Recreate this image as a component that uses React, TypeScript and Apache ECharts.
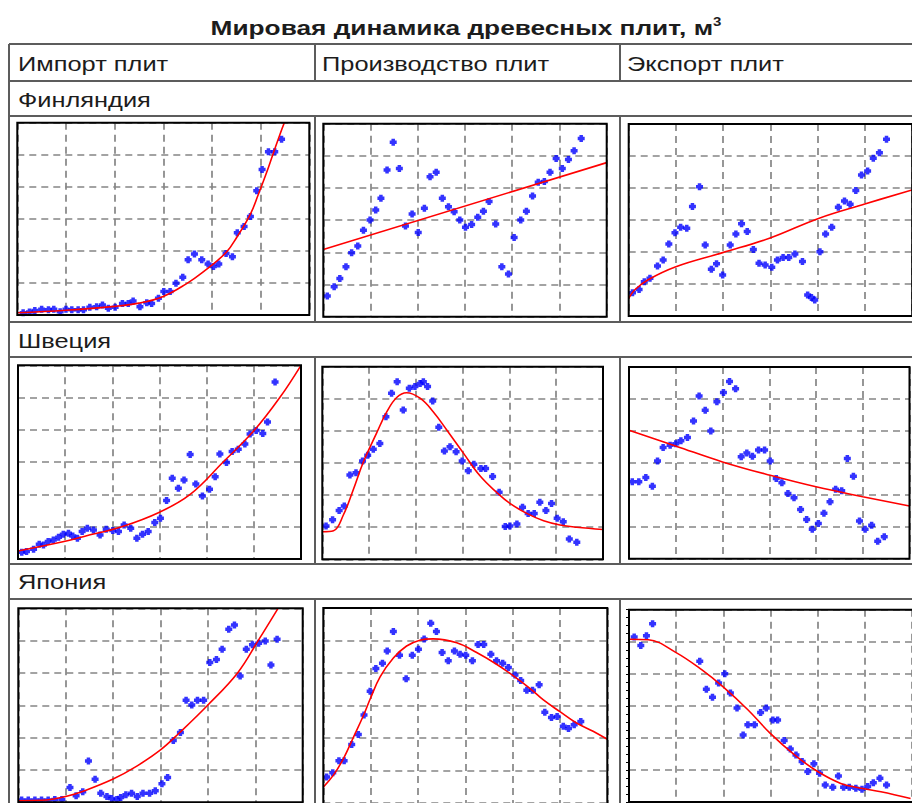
import React, { useEffect, useRef } from "react";
import * as echarts from "echarts";

// ---- Titles / labels ----
const titleText = "Мировая динамика древесных плит, м";
const titleSup = "3";
const columnNames = ["Импорт плит", "Производство плит", "Экспорт плит"];
const countryNames = ["Финляндия", "Швеция", "Япония"];

// ---- Data (grid units 0..60 on both axes) ----
const finImportPts = [
  [1.2, 0.7], [2.5, 0.9], [3.6, 1.4], [5.0, 1.8], [6.4, 1.6], [7.5, 1.8], [8.8, 1.0], [10.0, 1.8],
  [11.2, 1.6], [12.5, 1.6], [13.6, 1.6], [14.9, 2.4], [16.3, 2.6], [17.5, 3.1], [18.7, 2.1], [20.1, 2.4],
  [21.6, 3.6], [22.8, 3.6], [23.8, 4.4], [25.2, 2.6], [26.6, 3.8], [27.6, 3.6], [29.0, 5.2], [30.1, 7.3],
  [31.4, 7.3], [32.6, 9.9], [34.0, 11.8], [35.1, 17.2], [36.4, 19.0], [37.9, 17.2], [39.2, 15.9], [40.3, 15.1],
  [41.4, 15.9], [42.9, 19.2], [44.2, 18.2], [45.2, 25.7], [46.6, 27.6], [47.9, 30.7], [49.2, 38.8], [50.3, 45.4],
  [51.6, 50.9], [52.9, 50.9], [54.3, 54.8],
];
const finImportFit = [
  [0, 0.7], [10, 1.5], [20, 2.7], [25, 3.7], [30, 5.8], [34.8, 9.8], [38, 13.2], [42.9, 19.5],
  [45.2, 24.5], [47.9, 31.5], [49.5, 37.5], [51, 43.5], [52.5, 50], [54, 56.5], [55, 60.5],
];

const finProdPts = [
  [0.85, 6.4], [2.3, 9.3], [3.5, 11.9], [4.8, 15.5], [6.0, 19.9], [7.3, 22.0], [8.5, 26.9], [9.9, 30.1],
  [11.1, 33.2], [12.2, 36.8], [13.5, 45.6], [14.8, 54.2], [16.1, 46.1], [17.4, 28.2], [18.8, 31.9], [20.1, 26.2],
  [21.4, 33.7], [22.6, 43.5], [23.9, 44.9], [25.2, 36.8], [26.5, 34.2], [27.7, 32.6], [28.9, 30.1], [30.1, 27.8],
  [31.4, 28.7], [32.7, 30.9], [33.9, 32.8], [35.1, 35.8], [36.5, 28.8], [37.8, 15.5], [39.2, 13.3], [40.4, 24.6],
  [41.8, 30.1], [43.0, 32.8], [44.3, 37.5], [45.5, 41.8], [46.8, 42.0], [48.0, 44.9], [49.3, 49.2], [50.6, 46.1],
  [51.9, 48.9], [53.1, 51.6], [54.6, 55.4],
];
const finProdFit = [[0, 20.9], [60, 47.9]];

const finExportPts = [
  [0.8, 7.3], [2.2, 8.3], [3.3, 10.7], [4.5, 11.8], [6.1, 15.6], [7.3, 17.5], [8.5, 22.5], [9.8, 26.0],
  [11.0, 27.7], [12.3, 27.4], [13.5, 34.2], [15.0, 40.4], [16.2, 22.2], [17.5, 14.6], [18.6, 16.3], [19.9, 12.8],
  [21.5, 22.2], [22.7, 25.6], [23.9, 28.8], [25.1, 26.4], [26.4, 20.8], [27.6, 16.5], [28.9, 15.9], [30.3, 15.2],
  [31.5, 17.5], [32.7, 18.3], [33.9, 18.3], [35.2, 19.4], [36.8, 17.0], [37.9, 6.6], [38.7, 5.8], [39.4, 5.0],
  [40.5, 20.1], [41.7, 25.6], [43.0, 27.7], [44.4, 34.0], [45.7, 35.9], [46.9, 34.9], [48.1, 39.2], [49.3, 44.1],
  [50.6, 45.3], [51.8, 49.3], [53.1, 51.0], [54.6, 55.2],
];
const finExportFit = [
  [0, 5.5], [1.3, 8.2], [4.2, 11.4], [10.0, 15.4], [19.9, 19.8], [29.8, 24.3], [40.2, 30.5], [50.0, 35.0], [60.0, 39.4],
];

const sweImportPts = [
  [0.8, 2.1], [1.8, 2.3], [3.3, 3.0], [4.5, 4.6], [5.4, 4.3], [6.4, 5.4], [7.5, 5.9], [8.6, 6.7],
  [9.6, 7.7], [10.7, 8.0], [11.6, 7.1], [12.6, 6.4], [13.6, 8.5], [14.7, 9.5], [16.0, 9.0], [17.4, 7.4],
  [18.7, 9.2], [20.1, 8.8], [21.3, 8.5], [22.5, 10.5], [23.9, 9.5], [25.2, 6.4], [26.4, 7.7], [27.6, 8.5],
  [29.0, 11.3], [30.2, 12.6], [31.5, 18.1], [32.7, 25.0], [34.0, 21.9], [35.2, 24.5], [36.5, 32.4], [37.7, 23.2],
  [39.1, 19.5], [40.6, 21.6], [41.8, 25.5], [42.8, 32.5], [44.2, 29.9], [45.4, 33.3], [46.7, 34.0], [48.1, 35.6],
  [49.2, 38.7], [50.5, 39.8], [51.9, 38.9], [52.9, 42.4], [54.5, 54.8],
];
const sweImportFit = [
  [0, 2.5], [10, 5.5], [14, 7], [22, 10], [30, 14.5], [36.5, 20], [43.4, 29.9], [50, 39.7], [55.5, 50], [60, 60],
];

const sweProdPts = [
  [0.8, 10.4], [2.2, 12.3], [3.6, 15.2], [4.7, 16.6], [5.9, 26.3], [7.2, 27.0], [8.6, 30.6], [9.7, 32.4],
  [10.9, 34.3], [12.3, 36.1], [13.6, 44.4], [14.8, 51.7], [16.0, 55.3], [17.3, 46.5], [18.6, 53.3], [19.8, 53.8],
  [20.9, 54.8], [21.6, 55.3], [22.5, 53.8], [23.6, 49.3], [24.9, 41.1], [26.1, 33.7], [27.3, 35.1], [28.6, 33.5],
  [29.9, 30.6], [31.2, 27.6], [32.4, 29.6], [33.9, 28.3], [34.9, 28.3], [36.4, 25.8], [37.8, 20.9], [39.1, 10.2],
  [40.1, 10.4], [41.6, 11.0], [42.8, 16.2], [44.0, 14.3], [45.3, 14.3], [46.5, 17.8], [47.8, 15.2], [49.0, 17.4],
  [50.2, 12.8], [51.5, 11.7], [52.8, 6.3], [54.4, 5.3],
];
const sweProdFit = [
  [0, 8.6], [2.4, 8.9], [4.5, 13.8], [6.6, 21.6], [8.8, 30.4], [11.6, 39.3], [13.8, 46.0], [15.9, 50.4],
  [18.0, 51.9], [20.9, 50.2], [23.7, 46.0], [26.6, 40.3], [30.2, 33.0], [33.7, 26.0], [37.3, 20.8], [40.1, 17.4],
  [43.7, 14.3], [47.3, 12.0], [50.8, 10.7], [54.4, 10.0], [60, 9.3],
];

const sweExportPts = [
  [0.7, 24.1], [2.1, 24.1], [3.6, 25.4], [5.0, 22.7], [6.1, 30.6], [7.3, 34.8], [8.8, 35.5], [10.0, 36.0],
  [11.1, 36.9], [12.5, 37.9], [13.8, 43.1], [15.0, 50.9], [16.3, 46.5], [17.5, 40.0], [18.8, 49.1], [20.2, 52.0],
  [21.5, 55.5], [22.8, 53.2], [24.0, 31.9], [25.2, 33.1], [26.4, 32.1], [27.7, 34.0], [29.0, 34.0], [30.2, 30.6],
  [31.5, 25.1], [32.7, 23.8], [34.0, 20.4], [35.3, 19.1], [36.7, 15.4], [38.0, 12.3], [39.2, 9.2], [40.5, 11.0],
  [41.7, 14.2], [43.0, 17.8], [44.2, 21.7], [45.5, 21.3], [46.7, 31.4], [48.0, 25.8], [49.3, 11.8], [50.5, 9.2],
  [51.9, 10.5], [53.2, 5.5], [54.6, 6.9],
];
const sweExportFit = [[0, 40.2], [10.1, 35.2], [20.0, 30.3], [30.2, 26.1], [40.0, 22.5], [50.0, 19.4], [60, 16.5]];

const jpnImportPts = [
  [0.7, 0.7], [2.1, 0.7], [3.5, 0.7], [4.9, 0.7], [6.3, 0.7], [7.7, 0.9], [9.2, 0.9], [10.9, 4.6],
  [12.2, 2.0], [13.6, 3.3], [14.8, 12.8], [16.2, 7.1], [17.4, 2.8], [18.7, 1.8], [19.7, 1.2], [20.8, 0.9],
  [21.6, 1.5], [22.7, 2.3], [23.9, 2.8], [25.1, 1.8], [26.3, 2.8], [27.7, 2.8], [28.9, 3.6], [30.3, 5.7],
  [31.5, 7.7], [32.7, 19.1], [34.2, 21.6], [35.4, 31.6], [36.6, 30.1], [37.8, 31.6], [39.1, 31.6], [40.4, 43.2],
  [41.8, 44.2], [43.0, 47.3], [44.4, 53.5], [45.6, 54.8], [46.8, 39.1], [48.1, 47.3], [49.4, 48.7], [50.7, 49.2],
  [52.1, 49.9], [53.3, 42.5], [54.6, 50.4],
];
const jpnImportFit = [
  [0, 0.5], [6, 0.7], [10, 1.8], [14, 3.6], [20, 7.2], [25, 11.2], [30, 16.2], [34, 21.5],
  [40, 30.1], [46.3, 40.1], [50.6, 50], [54.8, 60],
];

const jpnProdPts = [
  [0.7, 8.0], [2.0, 9.3], [3.3, 13.0], [4.4, 13.0], [6.0, 18.0], [7.4, 21.1], [8.6, 27.1], [9.9, 34.4],
  [11.1, 41.4], [12.5, 43.0], [13.5, 46.8], [14.8, 52.8], [16.1, 45.5], [17.5, 38.2], [18.8, 45.5], [20.1, 47.3],
  [21.3, 50.5], [22.7, 55.3], [23.9, 52.8], [25.1, 46.3], [26.4, 43.8], [27.7, 46.8], [28.9, 45.8], [30.1, 45.5],
  [31.5, 43.8], [32.7, 48.8], [33.9, 48.8], [35.4, 45.8], [36.6, 43.8], [37.9, 43.0], [39.1, 41.7], [40.5, 39.4],
  [41.7, 37.7], [43.0, 34.7], [44.2, 34.7], [45.6, 36.4], [46.8, 27.9], [48.2, 26.3], [49.4, 26.6], [50.7, 23.6],
  [51.8, 22.9], [53.0, 24.1], [54.4, 25.1],
];
const jpnProdFit = [
  [0, 4.9], [2.1, 8.5], [4.2, 13.5], [6.3, 20.0], [8.5, 27.0], [9.9, 32.0], [12.0, 38.8], [14.8, 44.6],
  [17.6, 48.3], [20.4, 50.1], [23.2, 50.5], [28.2, 49.3], [32.4, 46.3], [36.6, 42.7], [40.1, 39.2], [43.7, 35.2],
  [46.5, 31.7], [50.0, 28.1], [53.5, 24.6], [57.0, 22.1], [60, 19.6],
];

const jpnExportPts = [
  [1.1, 51.5], [2.5, 48.8], [3.7, 51.9], [5.0, 55.6], [15.0, 43.9], [16.4, 35.2], [17.7, 32.7], [19.0, 37.1],
  [20.3, 40.0], [21.5, 34.0], [22.9, 29.3], [24.2, 20.9], [25.2, 24.1], [26.6, 24.1], [27.9, 27.9], [29.1, 29.3],
  [30.5, 25.6], [31.5, 25.6], [32.9, 19.2], [34.2, 16.5], [35.4, 14.7], [36.7, 12.6], [37.9, 9.5], [39.2, 11.9],
  [40.4, 9.0], [41.6, 5.3], [43.2, 4.6], [44.4, 8.1], [45.5, 4.6], [46.7, 4.6], [48.1, 4.3], [49.4, 4.0],
  [50.6, 4.8], [51.8, 6.0], [53.2, 7.4], [54.6, 5.3],
];
const jpnExportFit = [
  [0, 50.8], [4.1, 50.6], [9.9, 46.7], [15.4, 41.3], [19.9, 36.0], [25.2, 28.8], [29.9, 21.5], [35.1, 14.7],
  [40.0, 9.5], [44.9, 5.8], [49.2, 4.3], [53.4, 3.2], [59.7, 1.1],
];

const panels = [
  { pts: finImportPts, fit: finImportFit },
  { pts: finProdPts, fit: finProdFit },
  { pts: finExportPts, fit: finExportFit },
  { pts: sweImportPts, fit: sweImportFit },
  { pts: sweProdPts, fit: sweProdFit },
  { pts: sweExportPts, fit: sweExportFit },
  { pts: jpnImportPts, fit: jpnImportFit },
  { pts: jpnProdPts, fit: jpnProdFit },
  { pts: jpnExportPts, fit: jpnExportFit },
];

// ---- Layout (pixels) ----
const boxes = [
  { l: 17.3, t: 122.7, w: 292, h: 192.3 },
  { l: 323.3, t: 123.7, w: 283.4, h: 193 },
  { l: 628.7, t: 124, w: 283.5, h: 192 },
  { l: 18, t: 365.3, w: 283, h: 193.7 },
  { l: 322.3, t: 366.7, w: 280.7, h: 192.6 },
  { l: 629, t: 367, w: 280.5, h: 191.7 },
  { l: 18.3, t: 608.3, w: 284.4, h: 194 },
  { l: 323.3, t: 608, w: 284, h: 198.3 },
  { l: 629, t: 609.7, w: 284.2, h: 192.3 },
];

const MARKER = "path://M2.5,0H7.5V2.5H10V7.5H7.5V10H2.5V7.5H0V2.5H2.5Z";
const LINE_C = "#5c5c5c";
const TXT_C = "#1c1c1c";
const FONT = "Liberation Sans, Arial, sans-serif";

export default function App() {
  const ref = useRef<HTMLDivElement>(null);
  useEffect(() => {
    const chart = echarts.init(ref.current!, null, { renderer: "svg" });

    const grids = boxes.map((b) => ({ left: b.l, top: b.t, width: b.w, height: b.h, show: false }));
    const split = {
      show: true,
      lineStyle: { color: "#858585", width: 1.7, type: [7, 5] as any },
    };
    const xAxes = boxes.map((_, i) => ({
      type: "value",
      gridIndex: i,
      min: 0,
      max: 60,
      interval: 10,
      axisLine: { show: false },
      axisTick: { show: false },
      axisLabel: { show: false },
      splitLine: split,
    }));
    const yAxes = boxes.map((_, i) => ({
      type: "value",
      gridIndex: i,
      min: 0,
      max: 60,
      interval: 10,
      axisLine: { show: false },
      axisTick: i === 8 ? { show: true, length: 3, lineStyle: { color: "#000", width: 1 } } : { show: false },
      minorTick: i === 8 ? { show: true, splitNumber: 4, length: 3, lineStyle: { color: "#000", width: 1 } } : { show: false },
      axisLabel: { show: false },
      splitLine: split,
    }));

    const series: any[] = [];
    panels.forEach((p, i) => {
      series.push({
        type: "scatter",
        xAxisIndex: i,
        yAxisIndex: i,
        data: p.pts,
        symbol: MARKER,
        symbolSize: 7,
        itemStyle: { color: "#0000ff" },
        z: 3,
      });
      series.push({
        type: "line",
        xAxisIndex: i,
        yAxisIndex: i,
        data: p.fit,
        smooth: 0.4,
        showSymbol: false,
        lineStyle: { color: "#ff0000", width: 1.6 },
        z: 4,
      });
    });

    const graphics: any[] = [];
    const hLine = (y: number, x1 = 9, x2 = 912) =>
      graphics.push({ type: "line", shape: { x1, y1: y, x2, y2: y }, style: { stroke: LINE_C, lineWidth: 2 }, z: 1 });
    const vLine = (x: number, y1: number, y2: number) =>
      graphics.push({ type: "line", shape: { x1: x, y1, x2: x, y2 }, style: { stroke: LINE_C, lineWidth: 2 }, z: 1 });
    [44, 81, 116, 322, 357, 564, 599].forEach((y) => hLine(y));
    vLine(9, 44, 803);
    [315, 620].forEach((x) => {
      vLine(x, 44, 81);
      vLine(x, 116, 322);
      vLine(x, 357, 564);
      vLine(x, 599, 803);
    });
    boxes.forEach((b) =>
      graphics.push({
        type: "rect",
        shape: { x: b.l, y: b.t, width: b.w, height: b.h },
        style: { fill: null, stroke: "#000", lineWidth: 2 },
        z: 50,
      })
    );
    graphics.push({
      type: "text",
      x: 466,
      y: 27,
      scaleX: 1.25,
      style: {
        text: `${titleText}{sup|${titleSup}}`,
        fontFamily: FONT,
        fontSize: 21,
        fontWeight: "bold",
        fill: TXT_C,
        align: "center",
        verticalAlign: "middle",
        rich: { sup: { fontSize: 12, fontWeight: "bold", verticalAlign: "top", fill: TXT_C, fontFamily: FONT } },
      },
      z: 60,
    });
    const colX = [18, 322, 627];
    columnNames.forEach((t, i) =>
      graphics.push({
        type: "text",
        x: colX[i],
        y: 64,
        scaleX: 1.21,
        style: { text: t, fontFamily: FONT, fontSize: 21, fill: TXT_C, align: "left", verticalAlign: "middle" },
        z: 60,
      })
    );
    const rowY = [100, 341, 582];
    countryNames.forEach((t, i) =>
      graphics.push({
        type: "text",
        x: 18,
        y: rowY[i],
        scaleX: 1.21,
        style: { text: t, fontFamily: FONT, fontSize: 21, fill: TXT_C, align: "left", verticalAlign: "middle" },
        z: 60,
      })
    );

    chart.setOption({
      animation: false,
      backgroundColor: "#ffffff",
      grid: grids,
      xAxis: xAxes,
      yAxis: yAxes,
      series,
      graphic: graphics,
    });
    return () => chart.dispose();
  }, []);
  return (
    <div
      ref={ref}
      style={{ position: "absolute", left: 0, top: 0, width: 912, height: 803, background: "#fff" }}
    />
  );
}
